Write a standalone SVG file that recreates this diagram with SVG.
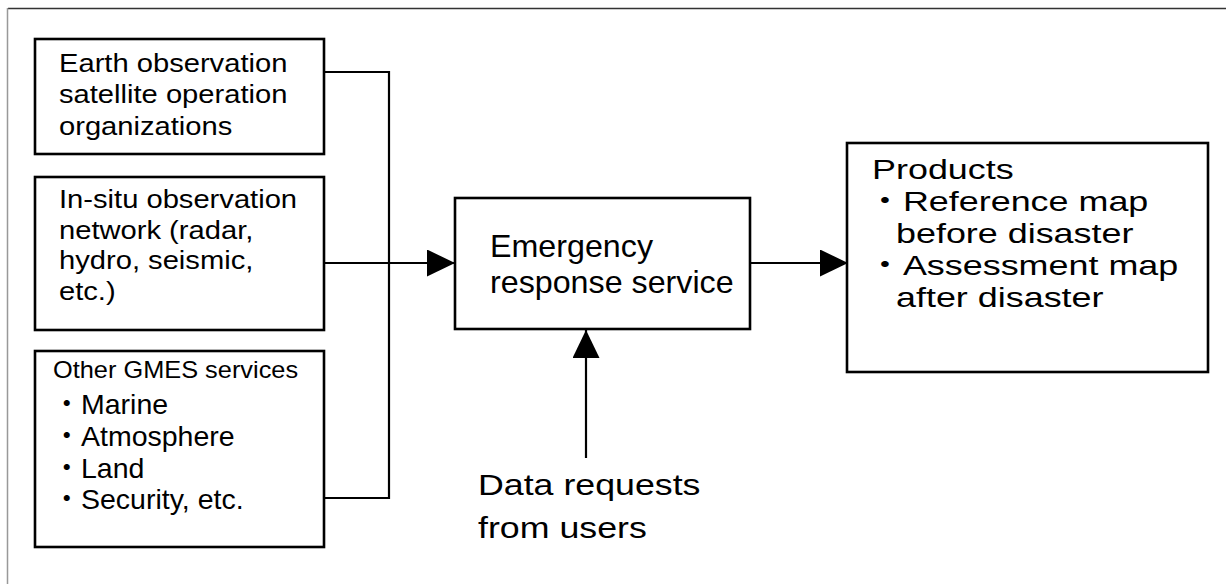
<svg xmlns="http://www.w3.org/2000/svg" width="1226" height="584" viewBox="0 0 1226 584">
<style>
.box{fill:#fff;stroke:#000;stroke-width:2.6}
.conn{fill:none;stroke:#000;stroke-width:2.2}
text{font-family:'Liberation Sans',Arial,'Noto Sans CJK JP',sans-serif;fill:#000}
</style>
<defs>
<marker id="arr" markerUnits="userSpaceOnUse" markerWidth="28" markerHeight="27" refX="28" refY="13.5" orient="auto">
<path d="M0,0 L28,13.5 L0,27 z" fill="#000"/>
</marker>
</defs>
<rect width="1226" height="584" fill="#fff"/>
<g id="frame">
<line x1="8" y1="8.5" x2="1226" y2="8.5" stroke="#333" stroke-width="1.5"/>
<line x1="7.5" y1="8" x2="7.5" y2="584" stroke="#999" stroke-width="1.5"/>
</g>
<g id="connectors">
<polyline class="conn" points="324,72 389,72 389,498 324,498"/>
<line class="conn" x1="324" y1="263" x2="455" y2="263" marker-end="url(#arr)"/>
<line class="conn" x1="750" y1="263" x2="848" y2="263" marker-end="url(#arr)"/>
<line class="conn" x1="586" y1="458" x2="586" y2="330" marker-end="url(#arr)"/>
</g>
<g id="earth-observation">
<rect class="box" x="35" y="39" width="289" height="115"/>
<text transform="translate(59,72) scale(1.1,1)" font-size="26.5"><tspan x="0" y="0">Earth observation</tspan><tspan x="0" y="31.5">satellite operation</tspan><tspan x="0" y="63">organizations</tspan></text>
</g>
<g id="in-situ">
<rect class="box" x="35" y="177" width="289" height="153"/>
<text transform="translate(59,208) scale(1.1,1)" font-size="26.5"><tspan x="0" y="0">In-situ observation</tspan><tspan x="0" y="30.7">network (radar,</tspan><tspan x="0" y="61.4">hydro, seismic,</tspan><tspan x="0" y="92.1">etc.)</tspan></text>
</g>
<g id="other-gmes">
<rect class="box" x="35" y="351" width="289" height="196"/>
<text transform="translate(53,378) scale(1.07,1)" font-size="23.7">Other GMES services</text>
<text font-size="28.5"><tspan x="52.5" y="414">・Marine</tspan><tspan x="52.5" y="446">・Atmosphere</tspan><tspan x="52.5" y="478">・Land</tspan><tspan x="52.5" y="509">・Security, etc.</tspan></text>
</g>
<g id="emergency">
<rect class="box" x="455" y="198" width="295" height="131"/>
<text transform="translate(490,257) scale(1.05,1)" font-size="30.7"><tspan x="0" y="0">Emergency</tspan><tspan x="0" y="36">response service</tspan></text>
</g>
<g id="data-requests">
<text transform="translate(478,495) scale(1.18,1)" font-size="30.3"><tspan x="0" y="0">Data requests</tspan><tspan x="0" y="43">from users</tspan></text>
</g>
<g id="products">
<rect class="box" x="847" y="143" width="361" height="229"/>
<text transform="translate(867,179) scale(1.26,1)" font-size="28.5"><tspan x="4" y="0">Products</tspan><tspan x="0" y="32">・Reference map</tspan><tspan x="23" y="64">before disaster</tspan><tspan x="0" y="96">・Assessment map</tspan><tspan x="23" y="128">after disaster</tspan></text>
</g>
</svg>
